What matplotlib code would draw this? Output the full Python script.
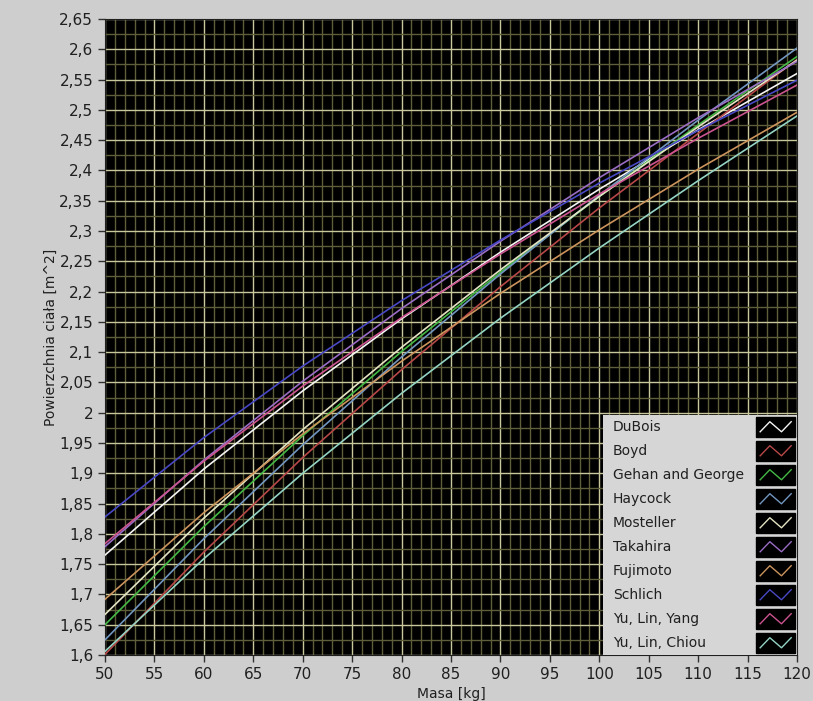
import matplotlib.pyplot as plt
from matplotlib.ticker import MultipleLocator, FuncFormatter
from matplotlib.patches import Rectangle

masa = [50, 60, 70, 80, 90, 100, 110, 120]

dubois = [1.765, 1.907, 2.036, 2.155, 2.265, 2.369, 2.467, 2.560]
boyd = [1.601, 1.770, 1.926, 2.071, 2.208, 2.338, 2.461, 2.583]
gehan_george = [1.650, 1.812, 1.962, 2.101, 2.232, 2.357, 2.475, 2.588]
haycock = [1.625, 1.792, 1.947, 2.092, 2.229, 2.359, 2.483, 2.602]
mosteller = [1.667, 1.826, 1.972, 2.108, 2.236, 2.357, 2.472, 2.582]
takahira = [1.779, 1.922, 2.052, 2.172, 2.283, 2.388, 2.487, 2.580]
fujimoto = [1.692, 1.835, 1.965, 2.085, 2.197, 2.302, 2.402, 2.496]
schlich = [1.828, 1.959, 2.077, 2.185, 2.285, 2.379, 2.466, 2.549]
yu_lin_yang = [1.784, 1.920, 2.044, 2.157, 2.262, 2.361, 2.453, 2.541]
yu_lin_chiou = [1.606, 1.759, 1.900, 2.032, 2.156, 2.272, 2.383, 2.490]

names = ['DuBois', 'Boyd', 'Gehan and George', 'Haycock', 'Mosteller',
         'Takahira', 'Fujimoto', 'Schlich', 'Yu, Lin, Yang', 'Yu, Lin, Chiou']
series = [dubois, boyd, gehan_george, haycock, mosteller,
          takahira, fujimoto, schlich, yu_lin_yang, yu_lin_chiou]
colors = ['#f4f4f4', '#b84848', '#44b844', '#7296c0', '#e4e4c4',
          '#9a6cc4', '#cc945c', '#4848c4', '#cc5490', '#94d4c4']

BG = '#cecece'

fig = plt.figure(figsize=(8.13, 7.01), dpi=100, facecolor=BG)
ax = fig.add_axes([105 / 813, 1 - 655 / 701, 692 / 813, 636 / 701])
ax.set_facecolor('black')

for s, c in zip(series, colors):
    ax.plot(masa, s, color=c, lw=1.2, zorder=3)

ax.set_xlim(50, 120)
ax.set_ylim(1.6, 2.65)
ax.xaxis.set_major_locator(MultipleLocator(5))
ax.xaxis.set_minor_locator(MultipleLocator(1))
ax.yaxis.set_major_locator(MultipleLocator(0.05))
ax.yaxis.set_minor_locator(MultipleLocator(0.025))
ax.yaxis.set_major_formatter(FuncFormatter(lambda v, p: ('%g' % round(v, 3)).replace('.', ',')))
ax.grid(which='major', color='#c8c89c', lw=1.0, zorder=1)
ax.grid(which='minor', color='#5e5e3a', lw=1.0, zorder=0)
ax.set_axisbelow(True)
ax.tick_params(which='major', length=5, width=1, color='#303030', labelsize=11,
               labelcolor='#202020', direction='out')
ax.tick_params(which='minor', length=0)
for sp in ax.spines.values():
    sp.set_color('#202020')

ax.set_ylabel('Powierzchnia ciała [m^2]', fontsize=10, color='#202020', labelpad=1)
ax.set_xlabel('Masa [kg]', fontsize=10, color='#202020', labelpad=4)

# legend panel
lax = fig.add_axes([603 / 813, 1 - 655 / 701, 194 / 813, 240 / 701])
lax.set_xlim(0, 1)
lax.set_ylim(0, len(names))
lax.set_facecolor('#d6d6d6')
lax.set_xticks([])
lax.set_yticks([])
for sp in lax.spines.values():
    sp.set_visible(False)
for i, (name, c) in enumerate(zip(names, colors)):
    row = len(names) - 1 - i
    lax.text(0.05, row + 0.5, name, fontsize=10, color='#202020', va='center', ha='left')
    lax.add_patch(Rectangle((0.79, row + 0.08), 0.2, 0.84, color='black'))
    lax.plot([0.81, 0.86, 0.92, 0.97], [row + 0.3, row + 0.72, row + 0.3, row + 0.72],
             color=c, lw=1.0)

fig.savefig('out.png', dpi=100, facecolor=BG)
